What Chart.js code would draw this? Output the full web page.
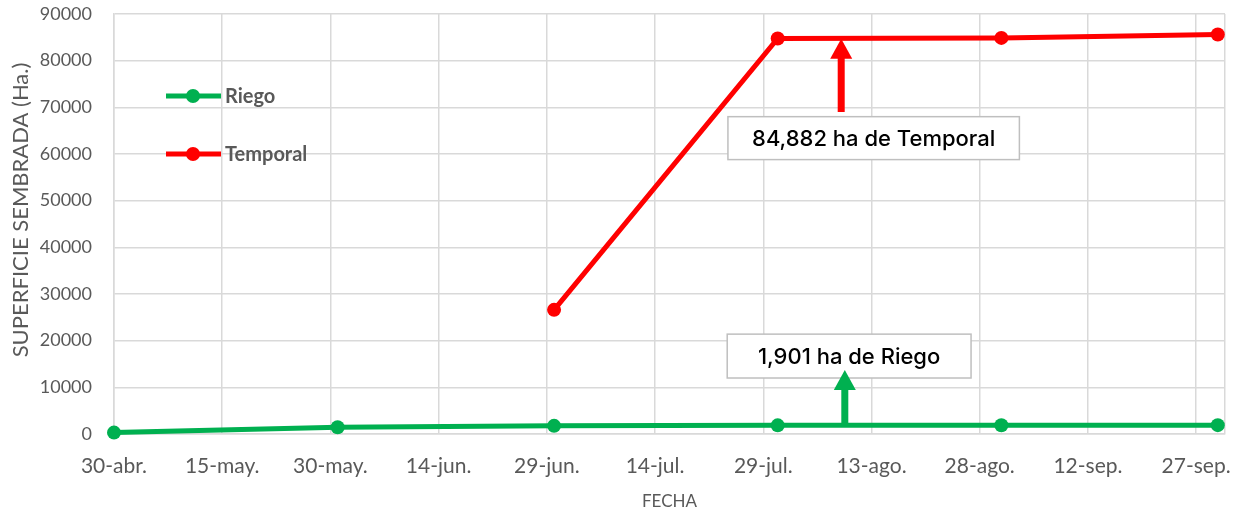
<!DOCTYPE html>
<html>
<head>
<meta charset="utf-8">
<script src="https://cdn.jsdelivr.net/npm/chart.js@4.4.1/dist/chart.umd.min.js"></script>
<style>
  html, body { margin: 0; padding: 0; background: #fff; }
</style>
</head>
<body>
<canvas id="graficaSiembra" width="1245" height="512"></canvas>
<script>
// Días transcurridos desde el 30-abr. en cada corte
const diasCorte = [0, 31, 61, 92, 123, 153];
const riego = [300, 1450, 1750, 1850, 1880, 1901];
const temporal = [null, null, 26600, 84750, 84882, 85600];

// Eje X: marcas cada 15 días (la última, sin texto, cierra el área)
const diasTicks = [0, 15, 30, 45, 60, 75, 90, 105, 120, 135, 150, 154];
const etiquetasTicks = ['30-abr.', '15-may.', '30-may.', '14-jun.', '29-jun.', '14-jul.',
                        '29-jul.', '13-ago.', '28-ago.', '12-sep.', '27-sep.', ''];
const ticksY = [0, 10000, 20000, 30000, 40000, 50000, 60000, 70000, 80000, 90000];

const VERDE = '#00b050';
const ROJO = '#ff0000';
const GRIS_TEXTO = '#595959';
const GRIS_REJILLA = '#d9d9d9';

function puntos(valores) {
    return diasCorte
        .map((d, i) => ({ x: d, y: valores[i] }))
        .filter(p => p.y !== null);
}

// Notas con flecha (coordenadas en días / hectáreas)
const notas = [
    { texto: '84,882 ha de Temporal', color: ROJO, flechaX: 100.8, desde: 69000, hasta: 84700,
      caja: { x0: 85.1, x1: 125.5, y0: 68000, y1: 58800 } },
    { texto: '1,901 ha de Riego', color: VERDE, flechaX: 101.3, desde: 1850, hasta: 13700,
      caja: { x0: 85, x1: 118.8, y0: 21400, y1: 12000 } }
];

const pluginNotas = {
    id: 'notas',
    afterDatasetsDraw(chart) {
        const ctx = chart.ctx;
        const sx = chart.scales.x, sy = chart.scales.y;
        ctx.save();
        notas.forEach(n => {
            // caja
            const bx0 = sx.getPixelForValue(n.caja.x0), bx1 = sx.getPixelForValue(n.caja.x1);
            const by0 = sy.getPixelForValue(n.caja.y0), by1 = sy.getPixelForValue(n.caja.y1);
            ctx.fillStyle = '#fff';
            ctx.fillRect(bx0, by0, bx1 - bx0, by1 - by0);
            ctx.strokeStyle = '#bfbfbf';
            ctx.lineWidth = 1.5;
            ctx.strokeRect(bx0, by0, bx1 - bx0, by1 - by0);
            ctx.fillStyle = '#000';
            ctx.font = '500 22px Inter';
            ctx.textAlign = 'center';
            ctx.textBaseline = 'middle';
            ctx.fillText(n.texto, (bx0 + bx1) / 2, (by0 + by1) / 2 + 1);

            // flecha
            const fx = sx.getPixelForValue(n.flechaX);
            const yBase = sy.getPixelForValue(n.desde);
            const yPunta = sy.getPixelForValue(n.hasta);
            const cabeza = 20;
            ctx.fillStyle = n.color;
            ctx.fillRect(fx - 3.5, yPunta + cabeza - 1, 7, yBase - yPunta - cabeza + 1);
            ctx.beginPath();
            ctx.moveTo(fx, yPunta);
            ctx.lineTo(fx + 11, yPunta + cabeza);
            ctx.lineTo(fx - 11, yPunta + cabeza);
            ctx.closePath();
            ctx.fill();
        });
        ctx.restore();
    }
};

const pluginLeyenda = {
    id: 'leyendaInterna',
    afterDraw(chart) {
        const ctx = chart.ctx;
        const filas = [96, 154];
        ctx.save();
        chart.data.datasets.forEach((ds, i) => {
            const y = filas[i];
            ctx.strokeStyle = ds.borderColor;
            ctx.lineWidth = 5;
            ctx.beginPath();
            ctx.moveTo(166, y);
            ctx.lineTo(221, y);
            ctx.stroke();
            ctx.fillStyle = ds.borderColor;
            ctx.beginPath();
            ctx.arc(193, y, 7, 0, Math.PI * 2);
            ctx.fill();
            ctx.fillStyle = GRIS_TEXTO;
            ctx.font = 'bold 20px Lato';
            ctx.textAlign = 'left';
            ctx.textBaseline = 'middle';
            ctx.fillText(ds.label, 225, y + 1);
        });
        ctx.restore();
    }
};

// Título del eje Y, algo por encima del centro del área (como en el original)
const pluginTituloY = {
    id: 'tituloY',
    afterDraw(chart) {
        const ctx = chart.ctx;
        ctx.save();
        ctx.translate(21, 210);
        ctx.rotate(-Math.PI / 2);
        ctx.fillStyle = GRIS_TEXTO;
        ctx.font = '22px Lato';
        ctx.textAlign = 'center';
        ctx.textBaseline = 'middle';
        ctx.fillText('SUPERFICIE SEMBRADA (Ha.)', 0, 0);
        ctx.restore();
    }
};

new Chart(document.getElementById('graficaSiembra'), {
    type: 'line',
    data: {
        datasets: [
            {
                label: 'Riego',
                data: puntos(riego),
                borderColor: VERDE,
                backgroundColor: VERDE,
                borderWidth: 5,
                pointRadius: 7,
                pointBorderWidth: 0,
                pointBackgroundColor: VERDE,
                clip: false
            },
            {
                label: 'Temporal',
                data: puntos(temporal),
                borderColor: ROJO,
                backgroundColor: ROJO,
                borderWidth: 5,
                pointRadius: 7,
                pointBorderWidth: 0,
                pointBackgroundColor: ROJO,
                clip: false
            }
        ]
    },
    options: {
        responsive: false,
        animation: false,
        layout: { padding: { top: 14, right: 20, left: 0, bottom: 0 } },
        plugins: {
            legend: { display: false },
            tooltip: { enabled: false }
        },
        scales: {
            x: {
                type: 'linear',
                min: 0,
                max: 154,
                afterBuildTicks: (scale) => {
                    scale.ticks = diasTicks.map(v => ({ value: v }));
                },
                afterFit: (scale) => { scale.height = 78; },
                ticks: {
                    autoSkip: false,
                    maxRotation: 0,
                    padding: 20,
                    color: GRIS_TEXTO,
                    font: { family: 'Lato', size: 21 },
                    callback: (value) => etiquetasTicks[diasTicks.indexOf(value)]
                },
                grid: { color: GRIS_REJILLA, lineWidth: 1.5, drawTicks: false },
                border: { color: GRIS_REJILLA, width: 1.5 },
                title: {
                    display: true,
                    text: 'FECHA',
                    color: GRIS_TEXTO,
                    font: { family: 'Lato', size: 17 },
                    padding: { top: 0, bottom: 0 }
                }
            },
            y: {
                min: 0,
                max: 90000,
                afterBuildTicks: (scale) => {
                    scale.ticks = ticksY.map(v => ({ value: v }));
                },
                afterFit: (scale) => {
                    scale.width = 114;
                    scale.paddingTop = 0;
                    scale.paddingBottom = 0;
                },
                ticks: {
                    padding: 22,
                    color: GRIS_TEXTO,
                    font: { family: 'Lato', size: 18 },
                    callback: (value) => String(value)
                },
                grid: { color: GRIS_REJILLA, lineWidth: 1.5, drawTicks: false },
                border: { color: GRIS_REJILLA, width: 1.5 }
            }
        }
    },
    plugins: [pluginNotas, pluginLeyenda, pluginTituloY]
});
</script>
</body>
</html>
